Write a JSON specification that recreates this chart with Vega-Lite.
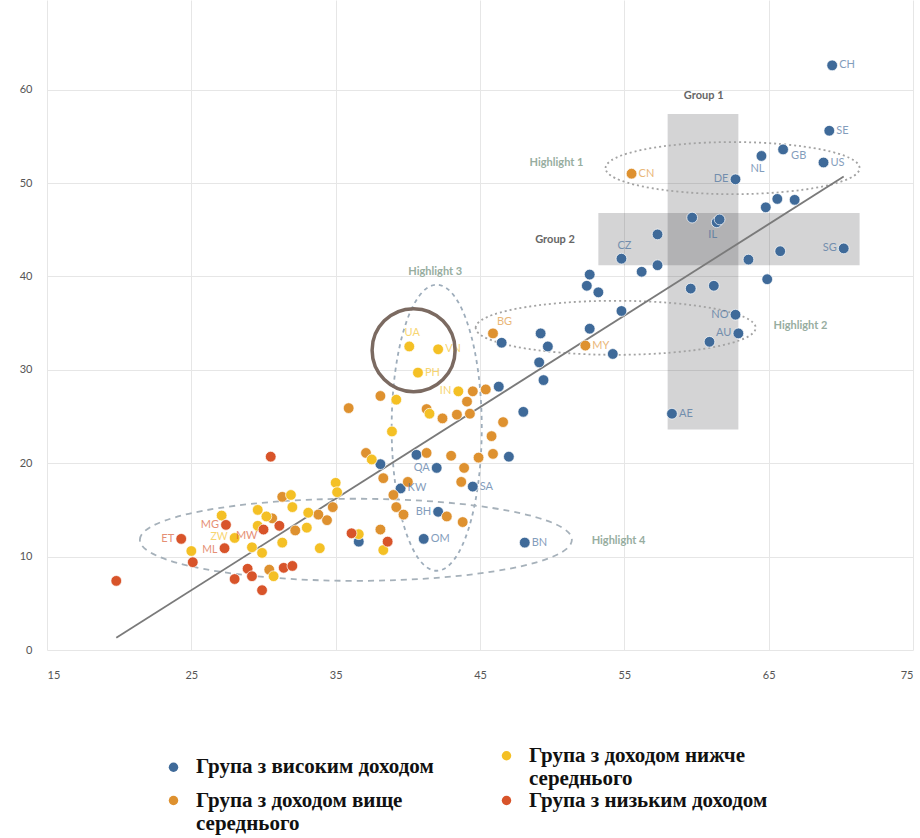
{
  "$schema": "https://vega.github.io/schema/vega-lite/v6.json",
  "width": 866,
  "height": 650,
  "autosize": {"type": "none"},
  "padding": {"left": 47, "top": 0, "right": 7, "bottom": 188},
  "background": "white",
  "config": {
    "view": {"stroke": null},
    "font": "Lato",
    "axis": {"grid": true, "gridColor": "#e6e6e6", "gridWidth": 1, "domain": false, "ticks": false, "labelColor": "#555555", "labelFont": "Lato", "labelFontSize": 11, "title": null}
  },
  "datasets": {
    "rects": [
      {"name": "Group 1", "x": 58.0, "x2": 62.9, "y": 23.6, "y2": 57.4},
      {"name": "Group 2", "x": 53.2, "x2": 71.3, "y": 41.2, "y2": 46.8}
    ],
    "ell": [
      {"name": "Highlight 1", "x": 62.5, "y": 51.6},
      {"name": "Highlight 2", "x": 54.4, "y": 34.5},
      {"name": "Highlight 3", "x": 42.0, "y": 23.8},
      {"name": "Highlight 4", "x": 36.4, "y": 11.8},
      {"name": "circle", "x": 40.4, "y": 32.1}
    ],
    "notes": [
      {"label": "Group 1", "kind": "group", "x": 60.5, "y": 59.3},
      {"label": "Group 2", "kind": "group", "x": 50.2, "y": 43.9},
      {"label": "Highlight 1", "kind": "hl", "x": 50.3, "y": 52.2},
      {"label": "Highlight 2", "kind": "hl", "x": 67.2, "y": 34.7},
      {"label": "Highlight 3", "kind": "hl", "x": 41.9, "y": 40.5},
      {"label": "Highlight 4", "kind": "hl", "x": 54.6, "y": 11.7}
    ],
    "fit": [
      {"x": 19.8, "y": 1.3},
      {"x": 70.2, "y": 50.7}
    ],
    "pts": [
      {"g": "Група з високим доходом", "x": 69.4, "y": 62.6, "code": "CH"},
      {"g": "Група з високим доходом", "x": 69.2, "y": 55.6, "code": "SE"},
      {"g": "Група з високим доходом", "x": 66.0, "y": 53.6, "code": "GB"},
      {"g": "Група з високим доходом", "x": 64.5, "y": 52.9, "code": "NL"},
      {"g": "Група з високим доходом", "x": 68.8, "y": 52.2, "code": "US"},
      {"g": "Група з високим доходом", "x": 62.7, "y": 50.4, "code": "DE"},
      {"g": "Група з високим доходом", "x": 65.6, "y": 48.3},
      {"g": "Група з високим доходом", "x": 66.8, "y": 48.2},
      {"g": "Група з високим доходом", "x": 64.8, "y": 47.4},
      {"g": "Група з високим доходом", "x": 59.7, "y": 46.3},
      {"g": "Група з високим доходом", "x": 61.4, "y": 45.8, "code": "IL"},
      {"g": "Група з високим доходом", "x": 61.6, "y": 46.1},
      {"g": "Група з високим доходом", "x": 57.3, "y": 44.5},
      {"g": "Група з високим доходом", "x": 54.8, "y": 41.9, "code": "CZ"},
      {"g": "Група з високим доходом", "x": 56.2, "y": 40.5},
      {"g": "Група з високим доходом", "x": 57.3, "y": 41.2},
      {"g": "Група з високим доходом", "x": 63.6, "y": 41.8},
      {"g": "Група з високим доходом", "x": 65.8, "y": 42.7},
      {"g": "Група з високим доходом", "x": 70.2, "y": 43.0, "code": "SG"},
      {"g": "Група з високим доходом", "x": 64.9, "y": 39.7},
      {"g": "Група з високим доходом", "x": 59.6, "y": 38.7},
      {"g": "Група з високим доходом", "x": 61.2, "y": 39.0},
      {"g": "Група з високим доходом", "x": 52.6, "y": 40.2},
      {"g": "Група з високим доходом", "x": 52.4, "y": 39.0},
      {"g": "Група з високим доходом", "x": 53.2, "y": 38.3},
      {"g": "Група з високим доходом", "x": 54.8, "y": 36.3},
      {"g": "Група з високим доходом", "x": 62.7, "y": 35.9, "code": "NO"},
      {"g": "Група з високим доходом", "x": 62.9, "y": 33.9, "code": "AU"},
      {"g": "Група з високим доходом", "x": 60.9, "y": 33.0},
      {"g": "Група з високим доходом", "x": 54.2, "y": 31.7},
      {"g": "Група з високим доходом", "x": 52.6, "y": 34.4},
      {"g": "Група з високим доходом", "x": 49.2, "y": 33.9},
      {"g": "Група з високим доходом", "x": 49.7, "y": 32.5},
      {"g": "Група з високим доходом", "x": 46.5, "y": 32.9},
      {"g": "Група з високим доходом", "x": 49.1, "y": 30.8},
      {"g": "Група з високим доходом", "x": 49.4, "y": 28.9},
      {"g": "Група з високим доходом", "x": 46.3, "y": 28.2},
      {"g": "Група з високим доходом", "x": 48.0, "y": 25.5},
      {"g": "Група з високим доходом", "x": 58.3, "y": 25.3, "code": "AE"},
      {"g": "Група з високим доходом", "x": 47.0, "y": 20.7},
      {"g": "Група з високим доходом", "x": 44.5, "y": 17.5, "code": "SA"},
      {"g": "Група з високим доходом", "x": 48.1, "y": 11.5, "code": "BN"},
      {"g": "Група з високим доходом", "x": 40.6, "y": 20.9},
      {"g": "Група з високим доходом", "x": 42.0, "y": 19.5, "code": "QA"},
      {"g": "Група з високим доходом", "x": 38.1, "y": 19.9},
      {"g": "Група з високим доходом", "x": 39.5, "y": 17.3, "code": "KW"},
      {"g": "Група з високим доходом", "x": 42.1, "y": 14.8, "code": "BH"},
      {"g": "Група з високим доходом", "x": 41.1, "y": 11.9, "code": "OM"},
      {"g": "Група з високим доходом", "x": 36.6, "y": 11.6},
      {"g": "Група з доходом вище середнього", "x": 55.5, "y": 51.0, "code": "CN"},
      {"g": "Група з доходом вище середнього", "x": 45.9, "y": 33.9, "code": "BG"},
      {"g": "Група з доходом вище середнього", "x": 52.3, "y": 32.6, "code": "MY"},
      {"g": "Група з доходом вище середнього", "x": 44.5, "y": 27.7},
      {"g": "Група з доходом вище середнього", "x": 45.4, "y": 27.9},
      {"g": "Група з доходом вище середнього", "x": 44.1, "y": 26.6},
      {"g": "Група з доходом вище середнього", "x": 44.3, "y": 25.3},
      {"g": "Група з доходом вище середнього", "x": 43.4, "y": 25.2},
      {"g": "Група з доходом вище середнього", "x": 42.4, "y": 24.8},
      {"g": "Група з доходом вище середнього", "x": 41.3, "y": 25.8},
      {"g": "Група з доходом вище середнього", "x": 46.6, "y": 24.4},
      {"g": "Група з доходом вище середнього", "x": 45.8, "y": 22.9},
      {"g": "Група з доходом вище середнього", "x": 45.9, "y": 21.0},
      {"g": "Група з доходом вище середнього", "x": 44.9, "y": 20.6},
      {"g": "Група з доходом вище середнього", "x": 43.9, "y": 19.5},
      {"g": "Група з доходом вище середнього", "x": 43.7, "y": 18.0},
      {"g": "Група з доходом вище середнього", "x": 43.8, "y": 13.7},
      {"g": "Група з доходом вище середнього", "x": 43.0, "y": 20.8},
      {"g": "Група з доходом вище середнього", "x": 41.3, "y": 21.1},
      {"g": "Група з доходом вище середнього", "x": 37.1, "y": 21.1},
      {"g": "Група з доходом вище середнього", "x": 38.3, "y": 18.4},
      {"g": "Група з доходом вище середнього", "x": 40.0, "y": 18.0},
      {"g": "Група з доходом вище середнього", "x": 39.0, "y": 16.6},
      {"g": "Група з доходом вище середнього", "x": 39.2, "y": 15.3},
      {"g": "Група з доходом вище середнього", "x": 39.7, "y": 14.5},
      {"g": "Група з доходом вище середнього", "x": 42.7, "y": 14.3},
      {"g": "Група з доходом вище середнього", "x": 38.1, "y": 12.9},
      {"g": "Група з доходом вище середнього", "x": 38.1, "y": 27.2},
      {"g": "Група з доходом вище середнього", "x": 35.9, "y": 25.9},
      {"g": "Група з доходом вище середнього", "x": 34.8, "y": 15.3},
      {"g": "Група з доходом вище середнього", "x": 34.4, "y": 13.9},
      {"g": "Група з доходом вище середнього", "x": 33.8, "y": 14.5},
      {"g": "Група з доходом вище середнього", "x": 32.2, "y": 12.8},
      {"g": "Група з доходом вище середнього", "x": 31.3, "y": 16.4},
      {"g": "Група з доходом вище середнього", "x": 30.6, "y": 14.1},
      {"g": "Група з доходом вище середнього", "x": 30.4, "y": 8.6},
      {"g": "Група з доходом нижче середнього", "x": 40.1, "y": 32.5, "code": "UA"},
      {"g": "Група з доходом нижче середнього", "x": 42.1, "y": 32.2, "code": "VN"},
      {"g": "Група з доходом нижче середнього", "x": 40.7, "y": 29.7, "code": "PH"},
      {"g": "Група з доходом нижче середнього", "x": 43.5, "y": 27.7, "code": "IN"},
      {"g": "Група з доходом нижче середнього", "x": 39.2, "y": 26.8},
      {"g": "Група з доходом нижче середнього", "x": 41.5, "y": 25.3},
      {"g": "Група з доходом нижче середнього", "x": 38.9, "y": 23.4},
      {"g": "Група з доходом нижче середнього", "x": 37.5, "y": 20.4},
      {"g": "Група з доходом нижче середнього", "x": 35.0, "y": 17.9},
      {"g": "Група з доходом нижче середнього", "x": 35.1, "y": 16.9},
      {"g": "Група з доходом нижче середнього", "x": 36.6, "y": 12.4},
      {"g": "Група з доходом нижче середнього", "x": 38.3, "y": 10.7},
      {"g": "Група з доходом нижче середнього", "x": 31.9, "y": 16.6},
      {"g": "Група з доходом нижче середнього", "x": 32.0, "y": 15.3},
      {"g": "Група з доходом нижче середнього", "x": 33.1, "y": 14.7},
      {"g": "Група з доходом нижче середнього", "x": 33.0, "y": 13.1},
      {"g": "Група з доходом нижче середнього", "x": 33.9, "y": 10.9},
      {"g": "Група з доходом нижче середнього", "x": 31.3, "y": 11.5},
      {"g": "Група з доходом нижче середнього", "x": 29.9, "y": 10.4},
      {"g": "Група з доходом нижче середнього", "x": 29.2, "y": 11.0},
      {"g": "Група з доходом нижче середнього", "x": 29.6, "y": 15.0},
      {"g": "Група з доходом нижче середнього", "x": 30.2, "y": 14.3},
      {"g": "Група з доходом нижче середнього", "x": 29.6, "y": 13.3},
      {"g": "Група з доходом нижче середнього", "x": 28.0, "y": 12.0, "code": "ZW"},
      {"g": "Група з доходом нижче середнього", "x": 27.1, "y": 14.4},
      {"g": "Група з доходом нижче середнього", "x": 25.0, "y": 10.6},
      {"g": "Група з доходом нижче середнього", "x": 30.7, "y": 7.9},
      {"g": "Група з низьким доходом", "x": 30.5, "y": 20.7},
      {"g": "Група з низьким доходом", "x": 27.4, "y": 13.4, "code": "MG"},
      {"g": "Група з низьким доходом", "x": 31.1, "y": 13.3},
      {"g": "Група з низьким доходом", "x": 30.0, "y": 12.9, "code": "MW"},
      {"g": "Група з низьким доходом", "x": 24.3, "y": 11.9, "code": "ET"},
      {"g": "Група з низьким доходом", "x": 27.3, "y": 10.9, "code": "ML"},
      {"g": "Група з низьким доходом", "x": 25.1, "y": 9.4},
      {"g": "Група з низьким доходом", "x": 28.9, "y": 8.7},
      {"g": "Група з низьким доходом", "x": 29.2, "y": 7.9},
      {"g": "Група з низьким доходом", "x": 28.0, "y": 7.6},
      {"g": "Група з низьким доходом", "x": 29.9, "y": 6.4},
      {"g": "Група з низьким доходом", "x": 31.4, "y": 8.8},
      {"g": "Група з низьким доходом", "x": 32.0, "y": 9.0},
      {"g": "Група з низьким доходом", "x": 19.8, "y": 7.4},
      {"g": "Група з низьким доходом", "x": 36.1, "y": 12.5},
      {"g": "Група з низьким доходом", "x": 38.6, "y": 11.6}
    ]
  },
  "encoding": {
    "x": {"field": "x", "type": "quantitative", "scale": {"domain": [15, 75], "nice": false, "zero": false}, "axis": {"values": [15, 25, 35, 45, 55, 65, 75], "labelPadding": 19}},
    "y": {"field": "y", "type": "quantitative", "scale": {"domain": [0, 69.6], "nice": false, "zero": false}, "axis": {"values": [0, 10, 20, 30, 40, 50, 60], "labelPadding": 15}}
  },
  "layer": [
    {
      "data": {"name": "rects"},
      "mark": {"type": "rect", "fill": "#3a3c40", "opacity": 0.22},
      "encoding": {"x2": {"field": "x2"}, "y2": {"field": "y2"}}
    },
    {
      "data": {"name": "ell"},
      "transform": [{"filter": "datum.name == 'Highlight 1'"}],
      "mark": {"type": "point", "shape": "M -1 0 C -1 -0.1132 -0.5523 -0.205 0 -0.205 C 0.5523 -0.205 1 -0.1132 1 0 C 1 0.1132 0.5523 0.205 0 0.205 C -0.5523 0.205 -1 0.1132 -1 0 Z", "size": 64516, "filled": false, "color": "#a3a3a3", "strokeWidth": 1.8, "strokeDash": [2, 3], "opacity": 1}
    },
    {
      "data": {"name": "ell"},
      "transform": [{"filter": "datum.name == 'Highlight 2'"}],
      "mark": {"type": "point", "shape": "M -1 0 C -1 -0.1066 -0.5523 -0.193 0 -0.193 C 0.5523 -0.193 1 -0.1066 1 0 C 1 0.1066 0.5523 0.193 0 0.193 C -0.5523 0.193 -1 0.1066 -1 0 Z", "size": 78400, "filled": false, "color": "#a3a3a3", "strokeWidth": 1.8, "strokeDash": [2, 3], "opacity": 1}
    },
    {
      "data": {"name": "ell"},
      "transform": [{"filter": "datum.name == 'Highlight 3'"}],
      "mark": {"type": "point", "shape": "M -0.315 0 C -0.315 -0.5523 -0.174 -1 0 -1 C 0.174 -1 0.315 -0.5523 0.315 0 C 0.315 0.5523 0.174 1 0 1 C -0.174 1 -0.315 0.5523 -0.315 0 Z", "size": 81796, "filled": false, "color": "#9eadbb", "strokeWidth": 1.8, "strokeDash": [4, 4], "opacity": 1}
    },
    {
      "data": {"name": "ell"},
      "transform": [{"filter": "datum.name == 'Highlight 4'"}],
      "mark": {"type": "point", "shape": "M -1 0 C -1 -0.1049 -0.5523 -0.19 0 -0.19 C 0.5523 -0.19 1 -0.1049 1 0 C 1 0.1049 0.5523 0.19 0 0.19 C -0.5523 0.19 -1 0.1049 -1 0 Z", "size": 186624, "filled": false, "color": "#a6b1ba", "strokeWidth": 1.8, "strokeDash": [6, 5], "opacity": 1}
    },
    {
      "data": {"name": "fit"},
      "mark": {"type": "line", "color": "#7a7a7a", "strokeWidth": 1.8}
    },
    {
      "data": {"name": "pts"},
      "mark": {"type": "point", "shape": "circle", "filled": true, "size": 115, "opacity": 1, "stroke": "white", "strokeWidth": 0.7},
      "encoding": {
        "color": {
          "field": "g", "type": "nominal",
          "scale": {"domain": ["Група з високим доходом", "Група з доходом вище середнього", "Група з доходом нижче середнього", "Група з низьким доходом"], "range": ["#3f6a99", "#de912f", "#f4c025", "#d8542a"]},
          "legend": {"orient": "none", "legendX": 116, "legendY": 745, "columns": 2, "columnPadding": 62, "rowPadding": 0, "title": null, "symbolType": "circle", "symbolSize": 90, "symbolStrokeWidth": 0, "labelFont": "Liberation Serif", "labelFontWeight": "bold", "labelFontSize": 21, "labelColor": "#111111", "labelLimit": 400, "labelOffset": 12,
            "labelExpr": "indexof(datum.label, ' середнього') > 0 ? [replace(datum.label, ' середнього', ''), 'середнього'] : datum.label"}
        }
      }
    },
    {
      "data": {"name": "pts"},
      "transform": [{"filter": {"field": "code", "oneOf": ["CH", "SE", "US", "AE", "SA", "BN", "KW", "OM", "CN", "MY", "VN", "PH"]}}],
      "mark": {"type": "text", "align": "left", "baseline": "middle", "dx": 7, "font": "Lato", "fontSize": 11, "opacity": 0.65},
      "encoding": {"text": {"field": "code"}, "color": {"field": "g", "type": "nominal", "legend": null}}
    },
    {
      "data": {"name": "pts"},
      "transform": [{"filter": {"field": "code", "oneOf": ["DE", "SG", "NO", "AU", "QA", "BH", "IN", "MG", "ET"]}}],
      "mark": {"type": "text", "align": "right", "baseline": "middle", "dx": -7, "font": "Lato", "fontSize": 11, "opacity": 0.65},
      "encoding": {"text": {"field": "code"}, "color": {"field": "g", "type": "nominal", "legend": null}}
    },
    {
      "data": {"name": "pts"},
      "transform": [{"filter": {"field": "code", "oneOf": ["ZW"]}}],
      "mark": {"type": "text", "align": "right", "baseline": "middle", "dx": -7, "dy": -1, "font": "Lato", "fontSize": 10.5, "opacity": 0.65},
      "encoding": {"text": {"field": "code"}, "color": {"field": "g", "type": "nominal", "legend": null}}
    },
    {
      "data": {"name": "pts"},
      "transform": [{"filter": {"field": "code", "oneOf": ["ML"]}}],
      "mark": {"type": "text", "align": "right", "baseline": "middle", "dx": -7, "dy": 2, "font": "Lato", "fontSize": 10.5, "opacity": 0.65},
      "encoding": {"text": {"field": "code"}, "color": {"field": "g", "type": "nominal", "legend": null}}
    },
    {
      "data": {"name": "pts"},
      "transform": [{"filter": {"field": "code", "oneOf": ["MW"]}}],
      "mark": {"type": "text", "align": "right", "baseline": "middle", "dx": -6, "dy": 6, "font": "Lato", "fontSize": 11, "opacity": 0.65},
      "encoding": {"text": {"field": "code"}, "color": {"field": "g", "type": "nominal", "legend": null}}
    },
    {
      "data": {"name": "pts"},
      "transform": [{"filter": {"field": "code", "oneOf": ["CZ", "UA"]}}],
      "mark": {"type": "text", "align": "center", "baseline": "middle", "dy": -13, "dx": 3, "font": "Lato", "fontSize": 11, "opacity": 0.65},
      "encoding": {"text": {"field": "code"}, "color": {"field": "g", "type": "nominal", "legend": null}}
    },
    {
      "data": {"name": "pts"},
      "transform": [{"filter": {"field": "code", "oneOf": ["BG"]}}],
      "mark": {"type": "text", "align": "left", "baseline": "middle", "dy": -11, "dx": 4, "font": "Lato", "fontSize": 11, "opacity": 0.65},
      "encoding": {"text": {"field": "code"}, "color": {"field": "g", "type": "nominal", "legend": null}}
    },
    {
      "data": {"name": "pts"},
      "transform": [{"filter": {"field": "code", "oneOf": ["GB"]}}],
      "mark": {"type": "text", "align": "left", "baseline": "middle", "dy": 7, "dx": 8, "font": "Lato", "fontSize": 11, "opacity": 0.65},
      "encoding": {"text": {"field": "code"}, "color": {"field": "g", "type": "nominal", "legend": null}}
    },
    {
      "data": {"name": "pts"},
      "transform": [{"filter": {"field": "code", "oneOf": ["NL", "IL"]}}],
      "mark": {"type": "text", "align": "center", "baseline": "middle", "dy": 13, "dx": -4, "font": "Lato", "fontSize": 11, "opacity": 0.65},
      "encoding": {"text": {"field": "code"}, "color": {"field": "g", "type": "nominal", "legend": null}}
    },
    {
      "data": {"name": "notes"},
      "transform": [{"filter": "datum.kind == 'group'"}],
      "mark": {"type": "text", "align": "center", "baseline": "middle", "font": "Lato", "fontSize": 11, "fontWeight": "bold", "color": "#666666"},
      "encoding": {"text": {"field": "label"}}
    },
    {
      "data": {"name": "notes"},
      "transform": [{"filter": "datum.kind == 'hl'"}],
      "mark": {"type": "text", "align": "center", "baseline": "middle", "font": "Lato", "fontSize": 11, "fontWeight": "bold", "color": "#97ad9f"},
      "encoding": {"text": {"field": "label"}}
    },
    {
      "data": {"name": "ell"},
      "transform": [{"filter": "datum.name == 'circle'"}],
      "mark": {"type": "point", "shape": "circle", "size": 6889, "filled": false, "color": "#7b6a61", "strokeWidth": 3.5, "opacity": 1}
    }
  ]
}
